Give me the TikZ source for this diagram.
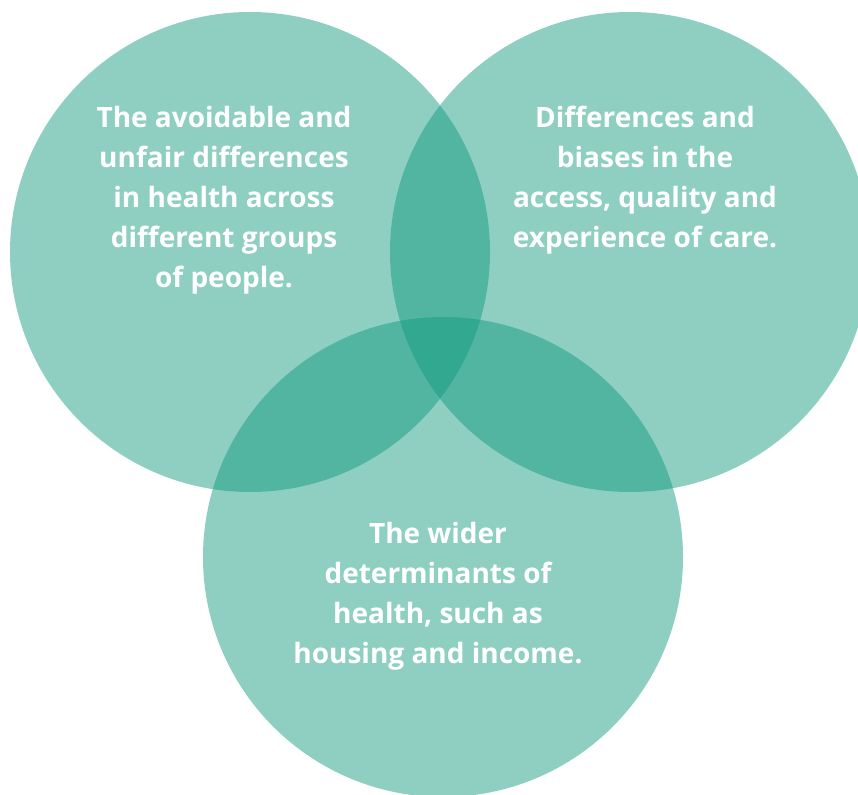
\documentclass[tikz,border=0pt]{standalone}
\usepackage{fontspec}
\newfontfamily\labelfont{Open Sans}
\definecolor{setteal}{RGB}{14,153,125}
\newcommand{\drawset}[4][]{%
\fill[setteal,fill opacity=0.47,#1] (#2,#3) circle (#4); 
}
\newcommand{\nameset}[4]{%
\node[setlabel] (#3) at (#1,#2) {#4}; 
}
\tikzset{setlabel/.style={text=white,align=center,inner sep=0pt,
  font=\labelfont\bfseries\fontsize{28}{40}\selectfont}}

\begin{document}
\begin{tikzpicture}[x=1pt,y=-1pt]

\useasboundingbox (0,0) rectangle (858,794);
\clip (0,0) rectangle (858,794);

\drawset{250}{252}{240}
\drawset{630}{252}{240}
\drawset{443}{557}{240}

\nameset{224}{200}{avoidable}{The avoidable and\\unfair differences\\in health across\\different groups\\of people.}
\nameset{645}{180}{access}{Differences and\\biases in the\\access, quality and\\experience of care.}
\nameset{438}{596}{wider}{The wider\\determinants of\\health, such as\\housing and income.}

\end{tikzpicture}
\end{document}
